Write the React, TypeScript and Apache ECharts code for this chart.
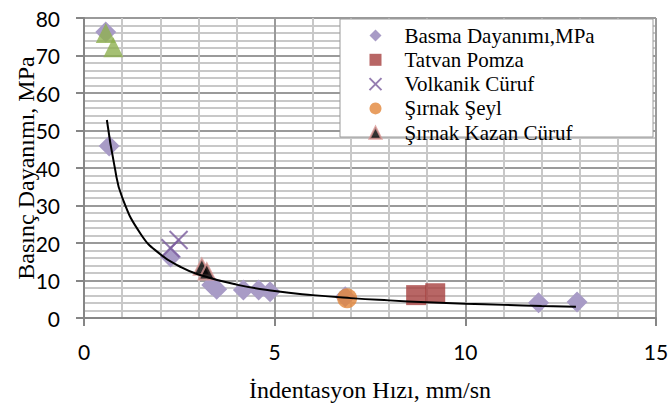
import React, { useEffect, useRef } from "react";
import * as echarts from "echarts";

const basmaX = [0.57, 0.66, 2.27, 3.35, 3.48, 4.18, 4.58, 4.88, 6.85, 11.92, 12.93];
const basmaY = [76.3, 45.9, 16.3, 8.8, 7.7, 7.5, 7.5, 7.0, 5.7, 4.1, 4.3];
const tatvanX = [8.71, 9.21];
const tatvanY = [6.1, 6.6];
const volkanikX = [2.27, 2.48];
const volkanikY = [18.6, 20.8];
const seylX = [6.9];
const seylY = [5.25];
const kazanX = [3.09, 3.22];
const kazanY = [13.7, 12.4];
const greenX = [0.57, 0.77];
const greenY = [76.0, 72.2];
const trendX = [0.6, 0.8, 1, 1.5, 2, 2.5, 3, 4, 5, 6, 7, 8, 9, 10, 11, 12, 12.9];
const trendY = [52.8, 40.5, 32.2, 22.2, 17.0, 13.8, 11.6, 8.9, 7.2, 6.1, 5.3, 4.7, 4.2, 3.8, 3.5, 3.2, 3.0];

const names = ["Basma Dayanımı,MPa", "Tatvan Pomza", "Volkanik Cüruf", "Şırnak Şeyl", "Şırnak Kazan Cüruf"];

const zip = (xs: number[], ys: number[]) => xs.map((x, i) => [x, ys[i]]);

const CROSS = "path://M0,0L10,10M10,0L0,10";

export default function App() {
  const ref = useRef<HTMLDivElement>(null);
  useEffect(() => {
    const chart = echarts.init(ref.current!, undefined, { renderer: "svg" });
    const serif = "'Liberation Serif', 'Times New Roman', serif";
    const sans = "Lato, 'Open Sans', sans-serif";
    chart.setOption({
      animation: false,
      backgroundColor: "#fff",
      grid: { left: 84, right: 14, top: 18, bottom: 85, outerBoundsMode: "none", containLabel: false },
      xAxis: {
        type: "value",
        min: 0,
        max: 15,
        interval: 5,
        name: "İndentasyon Hızı, mm/sn",
        nameLocation: "middle",
        nameGap: 60,
        nameMoveOverlap: false,
        nameTextStyle: { fontFamily: serif, fontSize: 24, color: "#000" },
        axisLine: { show: true, onZero: false, lineStyle: { color: "#868686", width: 2 } },
        axisTick: { show: true, inside: false, length: 8, lineStyle: { color: "#868686", width: 2 } },
        axisLabel: { margin: 23, fontFamily: sans, fontSize: 21, color: "#000" },
        splitLine: { show: true, lineStyle: { color: "#9a9a9a", width: 2 } },
        minorTick: { show: false, splitNumber: 5 },
        minorSplitLine: { show: true, lineStyle: { color: "#c8c8c8", width: 2 } },
      },
      yAxis: {
        type: "value",
        min: 0,
        max: 80,
        interval: 10,
        name: "Basınç Dayanımı, MPa",
        nameLocation: "middle",
        nameGap: 46,
        nameMoveOverlap: false,
        nameTextStyle: { fontFamily: serif, fontSize: 24, color: "#000" },
        axisLine: { show: true, onZero: false, lineStyle: { color: "#868686", width: 2 } },
        axisTick: { show: true, inside: false, length: 8, lineStyle: { color: "#868686", width: 2 } },
        axisLabel: { margin: 24, fontFamily: sans, fontSize: 21, color: "#000" },
        splitLine: { show: true, lineStyle: { color: "#9a9a9a", width: 2 } },
        minorTick: { show: false, splitNumber: 5 },
        minorSplitLine: { show: true, lineStyle: { color: "#c8c8c8", width: 2 } },
      },
      graphic: [
        {
          type: "rect",
          z: 10,
          shape: { x: 340, y: 19, width: 313, height: 118 },
          style: { fill: "#fff", stroke: "#9a9a9a", lineWidth: 1 },
        },
      ],
      legend: {
        z: 20,
        orient: "vertical",
        left: 362,
        top: 20,
        itemWidth: 12,
        itemHeight: 12,
        itemGap: 3.3,
        data: names,
        textStyle: { fontFamily: serif, fontSize: 21, lineHeight: 20, color: "#000", padding: [0, 0, 0, 18] },
      },
      series: [
        {
          name: names[0],
          type: "scatter",
          symbol: "diamond",
          symbolSize: 21,
          itemStyle: { color: "#A89BC6", opacity: 1 },
          data: zip(basmaX, basmaY),
          z: 2,
        },
        {
          name: "green",
          type: "scatter",
          symbol: "triangle",
          symbolSize: 20,
          itemStyle: { color: "#8FB050" },
          data: zip(greenX, greenY),
          z: 6,
        },
        {
          name: names[1],
          type: "scatter",
          symbol: "rect",
          symbolSize: 20,
          itemStyle: { color: "#A6403E" },
          data: zip(tatvanX, tatvanY),
          z: 3,
        },
        {
          name: names[2],
          type: "scatter",
          symbol: CROSS,
          symbolSize: 18,
          itemStyle: { color: "none", borderColor: "#7A5C9E", borderWidth: 2 },
          data: zip(volkanikX, volkanikY),
          z: 3,
        },
        {
          name: names[3],
          type: "scatter",
          symbol: "circle",
          symbolSize: 20,
          itemStyle: { color: "#E2863A" },
          data: zip(seylX, seylY),
          z: 3,
        },
        {
          name: names[4],
          type: "scatter",
          symbol: "triangle",
          symbolSize: 16,
          itemStyle: { color: "#000", borderColor: "#D99694", borderWidth: 2 },
          data: zip(kazanX, kazanY),
          z: 4,
        },
        {
          name: "trend",
          type: "line",
          smooth: true,
          showSymbol: false,
          symbol: "none",
          lineStyle: { color: "#000", width: 2 },
          data: zip(trendX, trendY),
          z: 5,
        },
      ],
    });
    return () => chart.dispose();
  }, []);
  return <div ref={ref} style={{ width: 670, height: 403, position: "absolute", left: 0, top: 0 }} />;
}
